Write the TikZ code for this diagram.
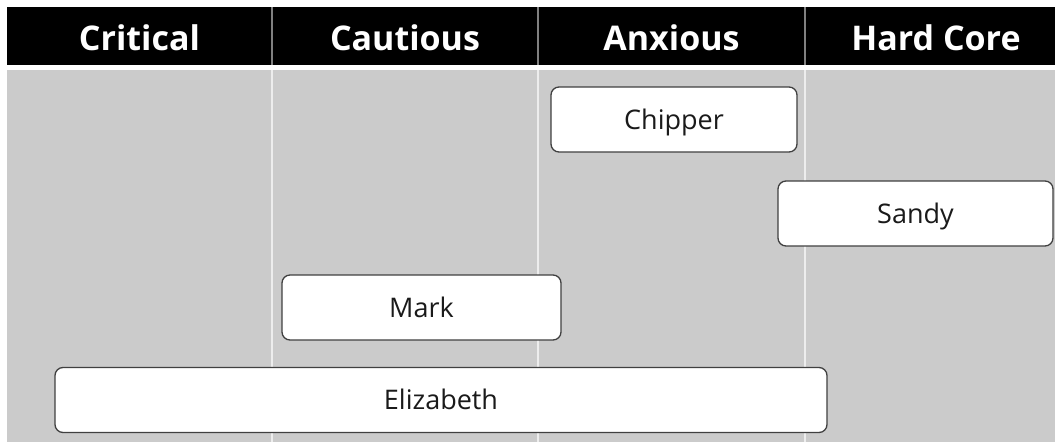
\documentclass[tikz,border=0pt]{standalone}
\usepackage{fontspec}
\setmainfont{Open Sans}
\definecolor{lanegray}{HTML}{CBCBCB}
\definecolor{lanerule}{HTML}{EDEDED}
\definecolor{headrule}{HTML}{808080}
\definecolor{boxedge}{HTML}{404040}
\definecolor{boxtext}{HTML}{1A1A1A}
\begin{document}
\begin{tikzpicture}[x=1pt,y=-1pt,
  colhead/.style={text=white, inner sep=0pt, text height=24pt, text depth=0pt,
    font=\bfseries\fontsize{34}{40}\selectfont},
  person/.style={draw=boxedge, line width=1.3pt, fill=white, rounded corners=8pt,
    inner sep=0pt, minimum height=65pt, text=boxtext, text height=19.5pt, text depth=0pt,
    font=\fontsize{27}{32}\selectfont}]
\useasboundingbox (0,0) rectangle (1055,442);
\fill[white] (0,0) rectangle (1055,442);
% header band and lane area
\fill[black] (7,7) rectangle (1055,65);
\fill[lanegray] (7,70) rectangle (1055,442);
\foreach \x in {272,538,805} {
  \draw[headrule, line width=1.5pt] (\x,7) -- (\x,65);
  \draw[lanerule, line width=2pt] (\x,70) -- (\x,442);
}
% column titles
\node[colhead] (hcrit) at (139.5,38.5) {Critical};
\node[colhead] (hcaut) at (405,38.5) {Cautious};
\node[colhead] (hanx)  at (671.5,38.5) {Anxious};
\node[colhead] (hhard) at (936,38.5) {Hard Core};
% people spanning the lanes
\node[person, minimum width=246pt] (chipper)   at (674,119.5)   {Chipper};
\node[person, minimum width=275pt] (sandy)     at (915.5,213.5) {Sandy};
\node[person, minimum width=279pt] (mark)      at (421.5,307.5) {Mark};
\node[person, minimum width=772pt] (elizabeth) at (441,400)     {Elizabeth};
\end{tikzpicture}
\end{document}
